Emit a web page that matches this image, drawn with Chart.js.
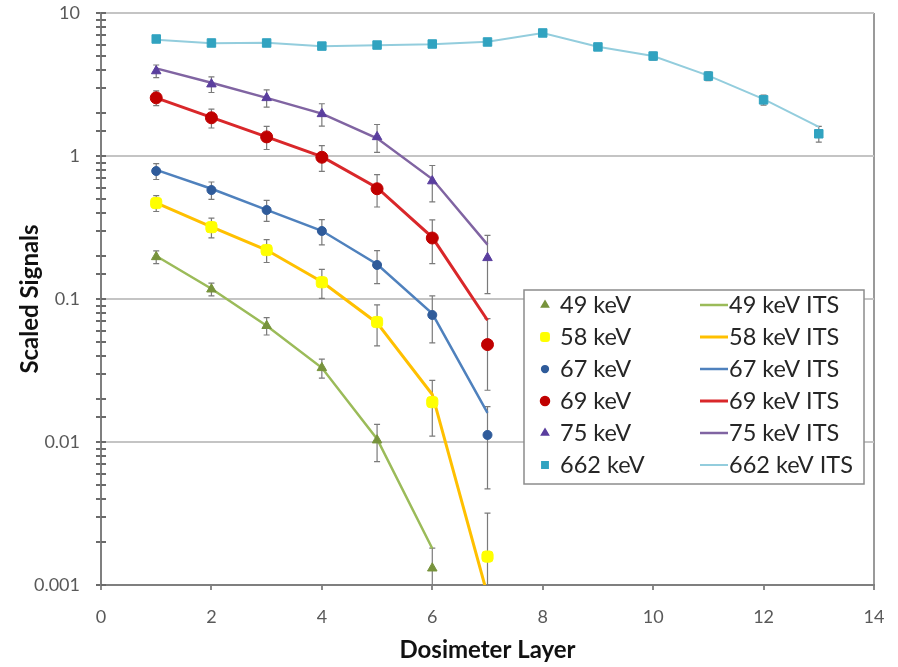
<!DOCTYPE html>
<html>
<head>
<meta charset="utf-8">
<script src="https://cdn.jsdelivr.net/npm/chart.js@4.4.1/dist/chart.umd.min.js"></script>
<style>
  html, body { margin: 0; padding: 0; background: #fff; }
  #wrap { width: 898px; height: 667px; }
</style>
</head>
<body>
<div id="wrap"><canvas id="grafico" width="898" height="667"></canvas></div>
<script>
// dosimeter layers
const layers = [1, 2, 3, 4, 5, 6, 7, 8, 9, 10, 11, 12, 13];

// measured signals
const meas49 = [0.197, 0.117, 0.065, 0.033, 0.0103, 0.00131];
const meas58 = [0.469, 0.318, 0.22, 0.131, 0.069, 0.019, 0.00158];
const meas67 = [0.785, 0.578, 0.419, 0.299, 0.173, 0.0773, 0.0112];
const meas69 = [2.55, 1.85, 1.36, 0.98, 0.59, 0.267, 0.048];
const meas75 = [3.93, 3.18, 2.55, 1.97, 1.36, 0.668, 0.194];
const meas662 = [6.58, 6.17, 6.17, 5.87, 5.97, 6.07, 6.27, 7.25, 5.79, 5.0, 3.62, 2.47, 1.43];

// error bars (absolute)
const err49 = [0.02, 0.012, 0.009, 0.005, 0.003, 0.0005];
const err58 = [0.06, 0.05, 0.04, 0.03, 0.022, 0.008, 0.0016];
const err67 = [0.1, 0.08, 0.07, 0.06, 0.045, 0.028, 0.0065];
const err69 = [0.3, 0.28, 0.25, 0.2, 0.15, 0.09, 0.025];
const err75 = [0.4, 0.4, 0.35, 0.35, 0.3, 0.19, 0.085];
const err662 = [0.3, 0.3, 0.3, 0.3, 0.3, 0.3, 0.3, 0.35, 0.3, 0.3, 0.25, 0.2, 0.18];

// ITS calculations
const its49 = [0.2, 0.118, 0.065, 0.033, 0.0105, 0.0018];
const its58 = [0.47, 0.32, 0.22, 0.132, 0.068, 0.0215, 0.00085];
const its67 = [0.8, 0.59, 0.42, 0.3, 0.175, 0.079, 0.016];
const its69 = [2.55, 1.86, 1.36, 0.99, 0.6, 0.27, 0.071];
const its75 = [4.1, 3.25, 2.55, 1.98, 1.33, 0.69, 0.24];
const its662 = [6.5, 6.15, 6.2, 5.85, 5.95, 6.05, 6.3, 7.25, 5.8, 5.0, 3.65, 2.5, 1.6];

const yTickLabels = ['0.001', '0.01', '0.1', '1', '10'];

function pts(vals) {
  return vals.map((v, i) => ({ x: layers[i], y: v }));
}

function marcado(label, vals, errs, color, style, radius) {
  return {
    label: label,
    data: pts(vals),
    errors: errs,
    showLine: false,
    pointStyle: style,
    pointRadius: radius,
    pointBackgroundColor: color,
    pointBorderColor: color,
    backgroundColor: color,
    borderColor: color,
    order: 1
  };
}

function linha(label, vals, color, width) {
  return {
    label: label,
    data: pts(vals),
    showLine: true,
    pointRadius: 0,
    borderColor: color,
    backgroundColor: color,
    borderWidth: width,
    order: 2
  };
}

const medidas = [
  marcado('49 keV', meas49, err49, '#77933C', 'triangle', 5.5),
  marcado('58 keV', meas58, err58, '#FFFF00', 'rectRounded', 6.5),
  marcado('67 keV', meas67, err67, '#2F5B9A', 'circle', 4.5),
  marcado('69 keV', meas69, err69, '#C00000', 'circle', 6),
  marcado('75 keV', meas75, err75, '#5A3E9E', 'triangle', 5.5),
  marcado('662 keV', meas662, err662, '#31A3C0', 'rect', 6)
];

const calculos = [
  linha('49 keV ITS', its49, '#9BBB59', 2.5),
  linha('58 keV ITS', its58, '#FFC000', 3),
  linha('67 keV ITS', its67, '#4F81BD', 2.5),
  linha('69 keV ITS', its69, '#D9272A', 3),
  linha('75 keV ITS', its75, '#8064A2', 2.5),
  linha('662 keV ITS', its662, '#93CDDD', 2)
];

function ehDecada(v) {
  const l = Math.log10(v);
  return Math.abs(l - Math.round(l)) < 1e-9;
}

const barrasErro = {
  id: 'barrasErro',
  beforeDatasetsDraw(chart) {
    const ctx = chart.ctx;
    const xs = chart.scales.x, ys = chart.scales.y;
    const area = chart.chartArea;
    ctx.save();
    ctx.beginPath();
    ctx.rect(area.left, area.top, area.right - area.left, area.bottom - area.top);
    ctx.clip();
    ctx.strokeStyle = '#7a7a7a';
    ctx.lineWidth = 1.2;
    chart.data.datasets.forEach(ds => {
      if (!ds.errors) return;
      ds.data.forEach((p, i) => {
        const e = ds.errors[i];
        const px = xs.getPixelForValue(p.x);
        const top = ys.getPixelForValue(p.y + e);
        const bot = p.y - e > 0 ? ys.getPixelForValue(p.y - e) : area.bottom + 5;
        ctx.beginPath();
        ctx.moveTo(px, top);
        ctx.lineTo(px, bot);
        ctx.moveTo(px - 3, top);
        ctx.lineTo(px + 3, top);
        ctx.moveTo(px - 3, bot);
        ctx.lineTo(px + 3, bot);
        ctx.stroke();
      });
    });
    ctx.restore();
  }
};

// tick marks on the inside of the y axis, as in the original
const marcasInternas = {
  id: 'marcasInternas',
  afterDraw(chart) {
    const ctx = chart.ctx;
    const ys = chart.scales.y;
    const x0 = chart.chartArea.left;
    ctx.save();
    ctx.strokeStyle = '#6a6a6a';
    ctx.lineWidth = 2;
    ys.ticks.forEach(t => {
      const py = Math.round(ys.getPixelForValue(t.value));
      ctx.beginPath();
      ctx.moveTo(x0, py);
      ctx.lineTo(x0 + 5, py);
      ctx.stroke();
    });
    ctx.restore();
  }
};

const legenda = {
  id: 'legenda',
  afterDraw(chart) {
    const ctx = chart.ctx;
    const box = { left: 524, top: 290, right: 864, bottom: 484 };
    ctx.save();
    ctx.fillStyle = '#fff';
    ctx.fillRect(box.left, box.top, box.right - box.left, box.bottom - box.top);
    ctx.strokeStyle = '#8c8c8c';
    ctx.lineWidth = 1.5;
    ctx.strokeRect(box.left, box.top, box.right - box.left, box.bottom - box.top);
    ctx.font = '23.5px Lato';
    ctx.textBaseline = 'middle';
    medidas.forEach((ds, i) => {
      const y = 305 + i * 32;
      ctx.fillStyle = ds.pointBackgroundColor;
      ctx.strokeStyle = ds.pointBorderColor;
      Chart.helpers.drawPoint(ctx, {
        pointStyle: ds.pointStyle,
        radius: ds.pointRadius * 0.75,
        borderWidth: 1,
        rotation: 0
      }, 545, y);
      ctx.fillStyle = '#262626';
      ctx.fillText(ds.label, 560, y);
    });
    calculos.forEach((ds, i) => {
      const y = 305 + i * 32;
      ctx.strokeStyle = ds.borderColor;
      ctx.lineWidth = ds.borderWidth;
      ctx.beginPath();
      ctx.moveTo(700, y);
      ctx.lineTo(728, y);
      ctx.stroke();
      ctx.fillStyle = '#262626';
      ctx.fillText(ds.label, 729, y);
    });
    ctx.restore();
  }
};

const alvo = document.getElementById('grafico').getContext('2d');

new Chart(alvo, {
  type: 'scatter',
  data: { datasets: medidas.concat(calculos) },
  plugins: [barrasErro, marcasInternas, legenda],
  options: {
    responsive: false,
    animation: false,
    layout: { padding: { top: 13, right: 24, left: 0, bottom: 0 } },
    plugins: {
      legend: { display: false },
      tooltip: { enabled: false }
    },
    scales: {
      x: {
        type: 'linear',
        min: 0,
        max: 14,
        afterFit: s => { s.height = 82; s.paddingLeft = 0; s.paddingRight = 0; },
        border: { color: '#7f7f7f', width: 2 },
        grid: {
          color: c => (c.tick && c.tick.value === 14 ? '#9a9a9a' : 'rgba(0,0,0,0)'),
          tickColor: '#8a8a8a',
          tickLength: 5,
          lineWidth: 2
        },
        ticks: {
          stepSize: 2,
          padding: 16,
          color: '#595959',
          font: { family: 'Lato', size: 18 }
        },
        title: {
          display: true,
          text: 'Dosimeter Layer',
          color: '#111',
          font: { family: 'Lato', size: 24, weight: 'bold' },
          padding: { top: 0, bottom: 2 }
        }
      },
      y: {
        type: 'logarithmic',
        min: 0.001,
        max: 10,
        afterFit: s => { s.width = 101; s.paddingTop = 0; s.paddingBottom = 0; },
        border: { color: '#7f7f7f', width: 2 },
        grid: {
          color: c => (c.tick && ehDecada(c.tick.value) ? '#c4c4c4' : 'rgba(0,0,0,0)'),
          tickColor: '#6a6a6a',
          tickLength: 5,
          lineWidth: 2
        },
        ticks: {
          autoSkip: false,
          padding: 16,
          color: '#595959',
          font: { family: 'Lato', size: 18 },
          callback: v => (ehDecada(v) ? yTickLabels[Math.round(Math.log10(v)) + 3] : '')
        },
        title: {
          display: true,
          text: 'Scaled Signals',
          color: '#111',
          font: { family: 'Lato', size: 24, weight: 'bold' },
          padding: { top: 16, bottom: 0 }
        }
      }
    }
  }
});
</script>
</body>
</html>
